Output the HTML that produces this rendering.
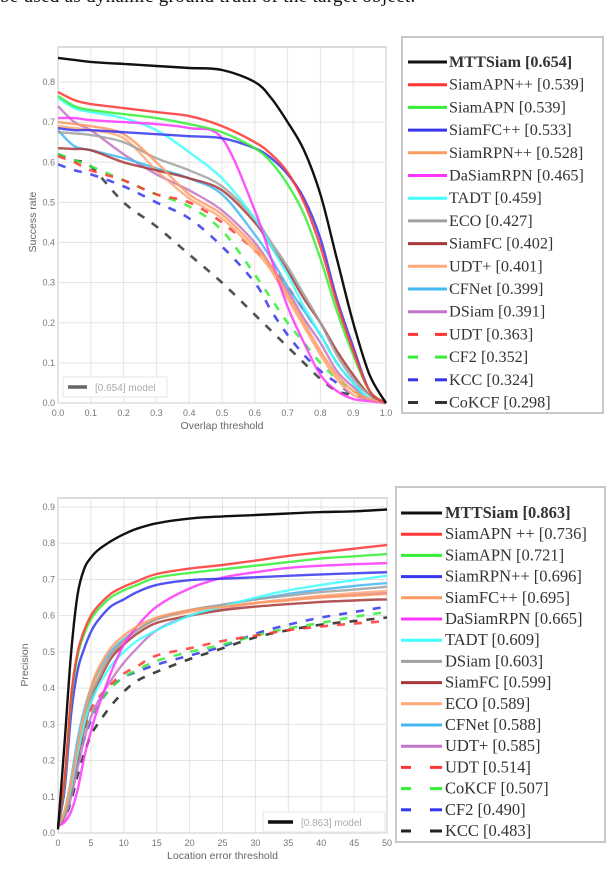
<!DOCTYPE html>
<html><head><meta charset="utf-8">
<style>
html,body{margin:0;padding:0;background:#fff;}
body{width:608px;height:870px;position:relative;overflow:hidden;font-family:"Liberation Serif",serif;}
#caption{position:absolute;left:0;top:-14px;font-size:19px;white-space:nowrap;color:#111;letter-spacing:0.3px;}
svg{position:absolute;left:0;top:0;}
</style></head><body>
<div id="caption">be used as dynamic ground truth of the target object.</div>
<svg id="svg" width="608" height="870"></svg>
<script>
// ---- Success plot data ----
const sxVals = [0,0.05,0.1,0.2,0.3,0.4,0.5,0.6,0.65,0.7,0.75,0.8,0.85,0.9,0.95,1.0];
const sNames = ["MTTSiam","SiamAPN++","SiamAPN","SiamFC++","SiamRPN++","DaSiamRPN","TADT","ECO","SiamFC","UDT+","CFNet","DSiam","UDT","CF2","KCC","CoKCF"];
const sScores = ["0.654","0.539","0.539","0.533","0.528","0.465","0.459","0.427","0.402","0.401","0.399","0.391","0.363","0.352","0.324","0.298"];
const sMTT = [0.86,0.855,0.85,0.845,0.84,0.835,0.83,0.80,0.76,0.70,0.63,0.52,0.36,0.20,0.07,0.0];
const sAPNpp = [0.775,0.755,0.745,0.735,0.725,0.715,0.69,0.65,0.62,0.575,0.50,0.39,0.25,0.13,0.03,0];
const sAPN = [0.765,0.74,0.73,0.72,0.71,0.695,0.675,0.635,0.60,0.545,0.47,0.36,0.23,0.12,0.03,0];
const sFCpp = [0.685,0.68,0.68,0.675,0.67,0.665,0.66,0.635,0.61,0.57,0.51,0.41,0.26,0.14,0.03,0];
const sRPNpp = [0.70,0.695,0.69,0.67,0.60,0.52,0.47,0.39,0.34,0.27,0.20,0.13,0.07,0.03,0.01,0];
const sDaSiam = [0.71,0.71,0.705,0.70,0.695,0.685,0.66,0.48,0.36,0.24,0.15,0.07,0.03,0.01,0.005,0];
const sTADT = [0.76,0.735,0.725,0.71,0.68,0.625,0.56,0.46,0.39,0.32,0.24,0.17,0.10,0.05,0.01,0];
const sECO = [0.675,0.672,0.668,0.65,0.61,0.58,0.54,0.46,0.40,0.34,0.27,0.20,0.12,0.06,0.02,0];
const sSiamFC = [0.635,0.633,0.63,0.60,0.58,0.56,0.53,0.45,0.39,0.33,0.26,0.20,0.13,0.07,0.02,0];
const sUDTp = [0.69,0.685,0.68,0.66,0.58,0.51,0.46,0.38,0.33,0.26,0.19,0.12,0.06,0.02,0.01,0];
const sCFNet = [0.68,0.64,0.63,0.61,0.585,0.56,0.52,0.42,0.36,0.29,0.23,0.17,0.10,0.05,0.01,0];
const sDSiam = [0.74,0.70,0.68,0.62,0.57,0.53,0.48,0.40,0.34,0.28,0.21,0.15,0.08,0.04,0.01,0];
const sUDT = [0.615,0.6,0.58,0.555,0.52,0.50,0.45,0.38,0.34,0.29,0.23,0.17,0.10,0.05,0.01,0];
const sCF2 = [0.62,0.605,0.59,0.555,0.52,0.49,0.43,0.32,0.26,0.20,0.15,0.10,0.06,0.03,0.01,0];
const sKCC = [0.595,0.58,0.57,0.54,0.50,0.46,0.39,0.30,0.23,0.17,0.12,0.08,0.05,0.02,0.01,0];
const sCoKCF = [0.62,0.605,0.59,0.50,0.44,0.37,0.30,0.22,0.18,0.14,0.10,0.06,0.03,0.02,0.01,0];
const sXTicks = ["0.0","0.1","0.2","0.3","0.4","0.5","0.6","0.7","0.8","0.9","1.0"];
const sYTicks = ["0.0","0.1","0.2","0.3","0.4","0.5","0.6","0.7","0.8"];

// ---- Precision plot data ----
const pxVals = [0,1,2,3,4,5,6,8,10,12,15,20,25,30,35,40,45,50];
const pNames = ["MTTSiam","SiamAPN ++","SiamAPN","SiamRPN++","SiamFC++","DaSiamRPN","TADT","DSiam","SiamFC","ECO","CFNet","UDT+","UDT","CoKCF","CF2","KCC"];
const pScores = ["0.863","0.736","0.721","0.696","0.695","0.665","0.609","0.603","0.599","0.589","0.588","0.585","0.514","0.507","0.490","0.483"];
const pMTT = [0.01,0.25,0.50,0.66,0.73,0.76,0.78,0.805,0.825,0.84,0.855,0.868,0.874,0.878,0.882,0.886,0.888,0.893];
const pAPNpp = [0.02,0.15,0.38,0.50,0.56,0.60,0.625,0.66,0.68,0.695,0.715,0.73,0.74,0.752,0.765,0.775,0.785,0.795];
const pAPN = [0.02,0.14,0.37,0.49,0.55,0.59,0.615,0.65,0.67,0.685,0.705,0.718,0.728,0.738,0.748,0.758,0.764,0.77];
const pRPNpp = [0.02,0.12,0.33,0.45,0.51,0.555,0.585,0.625,0.645,0.665,0.685,0.698,0.702,0.706,0.71,0.714,0.717,0.72];
const pFCpp = [0.02,0.06,0.14,0.24,0.33,0.40,0.45,0.51,0.545,0.57,0.595,0.615,0.625,0.635,0.642,0.65,0.655,0.66];
const pDaSiam = [0.02,0.03,0.06,0.12,0.21,0.28,0.34,0.44,0.52,0.57,0.625,0.675,0.705,0.72,0.732,0.738,0.742,0.745];
const pTADT = [0.02,0.06,0.13,0.22,0.30,0.36,0.40,0.46,0.50,0.53,0.56,0.60,0.625,0.65,0.67,0.685,0.698,0.71];
const pDSiam = [0.02,0.05,0.12,0.22,0.31,0.38,0.42,0.49,0.53,0.56,0.59,0.615,0.63,0.645,0.655,0.665,0.672,0.68];
const pSiamFC = [0.02,0.05,0.12,0.21,0.29,0.36,0.41,0.48,0.52,0.55,0.58,0.60,0.615,0.625,0.632,0.638,0.642,0.645];
const pECO = [0.02,0.06,0.14,0.23,0.32,0.38,0.43,0.49,0.53,0.56,0.59,0.61,0.622,0.635,0.645,0.655,0.662,0.668];
const pCFNet = [0.02,0.06,0.15,0.26,0.34,0.40,0.44,0.50,0.535,0.56,0.59,0.615,0.63,0.645,0.66,0.672,0.682,0.69];
const pUDTp = [0.02,0.04,0.10,0.18,0.26,0.32,0.36,0.42,0.47,0.51,0.56,0.60,0.62,0.635,0.645,0.652,0.658,0.662];
const pUDT = [0.02,0.06,0.13,0.22,0.29,0.34,0.37,0.41,0.44,0.46,0.49,0.51,0.53,0.545,0.56,0.57,0.578,0.585];
const pCoKCF = [0.02,0.05,0.12,0.20,0.27,0.32,0.35,0.40,0.43,0.45,0.475,0.50,0.52,0.545,0.565,0.58,0.597,0.61];
const pCF2 = [0.02,0.05,0.11,0.19,0.26,0.31,0.35,0.40,0.43,0.445,0.465,0.49,0.515,0.55,0.575,0.595,0.61,0.625];
const pKCC = [0.02,0.04,0.09,0.16,0.22,0.27,0.30,0.35,0.39,0.42,0.445,0.48,0.51,0.54,0.56,0.575,0.585,0.595];
const pXTicks = ["0","5","10","15","20","25","30","35","40","45","50"];
const pYTicks = ["0.0","0.1","0.2","0.3","0.4","0.5","0.6","0.7","0.8","0.9"];

const NS = "http://www.w3.org/2000/svg";
const svg = document.getElementById('svg');
function mk(tag, attrs, parent){
  const e = document.createElementNS(NS, tag);
  for (const k in attrs) e.setAttribute(k, attrs[k]);
  (parent||svg).appendChild(e);
  return e;
}
function smoothPath(pts){
  let d = "M"+pts[0][0].toFixed(1)+","+pts[0][1].toFixed(1);
  for (let i=0;i<pts.length-1;i++){
    const p0=pts[Math.max(0,i-1)],p1=pts[i],p2=pts[i+1],p3=pts[Math.min(pts.length-1,i+2)];
    const c1=[p1[0]+(p2[0]-p0[0])/6,p1[1]+(p2[1]-p0[1])/6];
    const c2=[p2[0]-(p3[0]-p1[0])/6,p2[1]-(p3[1]-p1[1])/6];
    d+=" C"+c1[0].toFixed(1)+","+c1[1].toFixed(1)+" "+c2[0].toFixed(1)+","+c2[1].toFixed(1)+" "+p2[0].toFixed(1)+","+p2[1].toFixed(1);
  }
  return d;
}
const C = {black:"#111",red:"#ff3535",green:"#35ee35",blue:"#3535ee",orange:"#ff9a60",mag:"#ff35ff",cyan:"#40ffff",gray:"#a0a0a0",dred:"#a83838",lorange:"#ffa878",lblue:"#45b8f0",purple:"#c275c8"};

function drawChart(cfg){
  const g = mk('g',{});
  
  
  const X = v => cfg.x0 + (v - cfg.xmin)/(cfg.xmax-cfg.xmin)*(cfg.x1-cfg.x0);
  const Y = v => cfg.y0 - v/cfg.ymaxTick*(cfg.y0-cfg.yTopTick);
  mk('rect',{x:cfg.x0,y:cfg.top,width:cfg.x1-cfg.x0,height:cfg.y0-cfg.top,fill:"#fff",stroke:"#cfcfcf","stroke-width":1.5},g);
  cfg.xTicks.forEach((t,i)=>{
    const x = X(cfg.xmin + i*(cfg.xmax-cfg.xmin)/(cfg.xTicks.length-1));
    mk('line',{x1:x,y1:cfg.top,x2:x,y2:cfg.y0,stroke:"#e3e3e3","stroke-width":1},g);
    const tx = mk('text',{x:x,y:cfg.y0+13,"font-size":9,"text-anchor":"middle",fill:"#777","font-family":"Liberation Sans, sans-serif"},g);
    tx.textContent=t;
    
    
  });
  cfg.yTicks.forEach((t,i)=>{
    const y = Y(i*cfg.ymaxTick/(cfg.yTicks.length-1));
    mk('line',{x1:cfg.x0,y1:y,x2:cfg.x1,y2:y,stroke:"#e3e3e3","stroke-width":1},g);
    const tx = mk('text',{x:cfg.x0-3,y:y+3,"font-size":9,"text-anchor":"end",fill:"#777","font-family":"Liberation Sans, sans-serif"},g);
    tx.textContent=t;
    
    
  });
  const xt = mk('text',{x:(cfg.x0+cfg.x1)/2,y:cfg.y0+26,"font-size":10.5,"text-anchor":"middle",fill:"#666","font-family":"Liberation Sans, sans-serif"},g);
  xt.textContent=cfg.xTitle;
  
  
  const yt = mk('text',{x:0,y:0,"font-size":10.5,"text-anchor":"middle",fill:"#666","font-family":"Liberation Sans, sans-serif",transform:"translate("+cfg.yTitleX+","+cfg.yTitleY+") rotate(-90)"},g);
  yt.textContent=cfg.yTitle;
  
  
  for (let i=cfg.series.length-1;i>=0;i--){
    const s = cfg.series[i];
    const pts = s.data.map((v,j)=>[X(cfg.xs[j]),Y(v)]);
    const p = mk('path',{d:smoothPath(pts),fill:"none",stroke:s.color,"stroke-width":s.dash?2.6:2.4,"stroke-opacity":i===0?1:0.85,"stroke-dasharray":s.dash?"8,9":"none"},g);
    
    
  }
  const ml = mk('g',{},g);
  
  
  mk('rect',{x:cfg.mini.x,y:cfg.mini.y,width:cfg.mini.w,height:20,fill:"#fff",stroke:"#e6e6e6"},ml);
  mk('line',{x1:cfg.mini.x+5,y1:cfg.mini.y+10,x2:cfg.mini.x+cfg.mini.lw,y2:cfg.mini.y+10,stroke:cfg.mini.color,"stroke-width":3.5},ml);
  const mt = mk('text',{x:cfg.mini.x+cfg.mini.lw+8,y:cfg.mini.y+14,"font-size":10,fill:"#aaa","font-family":"Liberation Sans, sans-serif"},ml);
  mt.textContent=cfg.mini.text;
  const L = cfg.legend;
  const lg = mk('g',{},g);
  
  
  mk('rect',{x:L.x,y:L.y,width:L.w,height:L.h,fill:"#fff",stroke:"#c8c8c8","stroke-width":2},lg);
  cfg.series.forEach((s,i)=>{
    const y = L.first + i*L.step;
    const e = mk('g',{},lg);
    
    
    if (s.dash){
      mk('line',{x1:L.lx0,y1:y,x2:L.lx0+10,y2:y,stroke:s.color,"stroke-width":3},e);
      mk('line',{x1:L.lx1-12,y1:y,x2:L.lx1,y2:y,stroke:s.color,"stroke-width":3},e);
    } else {
      mk('line',{x1:L.lx0,y1:y,x2:L.lx1,y2:y,stroke:s.color,"stroke-width":3},e);
    }
    const t = mk('text',{x:L.tx,y:y+5,"font-size":L.fs,fill:"#333","font-family":"Liberation Serif, serif","font-weight":i===0?"bold":"normal"},e);
    t.textContent = cfg.names[i]+" ["+cfg.scores[i]+"]";
  });
}

drawChart({
  name:"success-plot", x0:58, x1:386, xmin:0, xmax:1, y0:403, yTopTick:82, ymaxTick:0.8, top:47,
  xs:sxVals, xTicks:sXTicks, yTicks:sYTicks, xTitle:"Overlap threshold", yTitle:"Success rate", yTitleX:36, yTitleY:222,
  names:sNames, scores:sScores,
  series:[
    {data:sMTT,color:C.black},{data:sAPNpp,color:C.red},{data:sAPN,color:C.green},{data:sFCpp,color:C.blue},
    {data:sRPNpp,color:C.orange},{data:sDaSiam,color:C.mag},{data:sTADT,color:C.cyan},{data:sECO,color:C.gray},
    {data:sSiamFC,color:C.dred},{data:sUDTp,color:C.lorange},{data:sCFNet,color:C.lblue},{data:sDSiam,color:C.purple},
    {data:sUDT,color:C.red,dash:true},{data:sCF2,color:C.green,dash:true},{data:sKCC,color:C.blue,dash:true},{data:sCoKCF,color:"#333",dash:true}
  ],
  mini:{x:63,y:377,w:104,lw:24,color:"#666",text:"[0.654] model"},
  legend:{x:402,y:37,w:201,h:376,first:62,step:22.7,lx0:408,lx1:447,tx:449,fs:16.2}
});
drawChart({
  name:"precision-plot", x0:58, x1:387, xmin:0, xmax:50, y0:833, yTopTick:507, ymaxTick:0.9, top:498,
  xs:pxVals, xTicks:pXTicks, yTicks:pYTicks, xTitle:"Location error threshold", yTitle:"Precision", yTitleX:28, yTitleY:665,
  names:pNames, scores:pScores,
  series:[
    {data:pMTT,color:C.black},{data:pAPNpp,color:C.red},{data:pAPN,color:C.green},{data:pRPNpp,color:C.blue},
    {data:pFCpp,color:C.orange},{data:pDaSiam,color:C.mag},{data:pTADT,color:C.cyan},{data:pDSiam,color:C.gray},
    {data:pSiamFC,color:C.dred},{data:pECO,color:C.lorange},{data:pCFNet,color:C.lblue},{data:pUDTp,color:C.purple},
    {data:pUDT,color:C.red,dash:true},{data:pCoKCF,color:C.green,dash:true},{data:pCF2,color:C.blue,dash:true},{data:pKCC,color:"#222",dash:true}
  ],
  mini:{x:263,y:812,w:122,lw:30,color:"#111",text:"[0.863] model"},
  legend:{x:396,y:487,w:209,h:355,first:513,step:21.2,lx0:401,lx1:442,tx:445,fs:16.5}
});
</script>
</body></html>
